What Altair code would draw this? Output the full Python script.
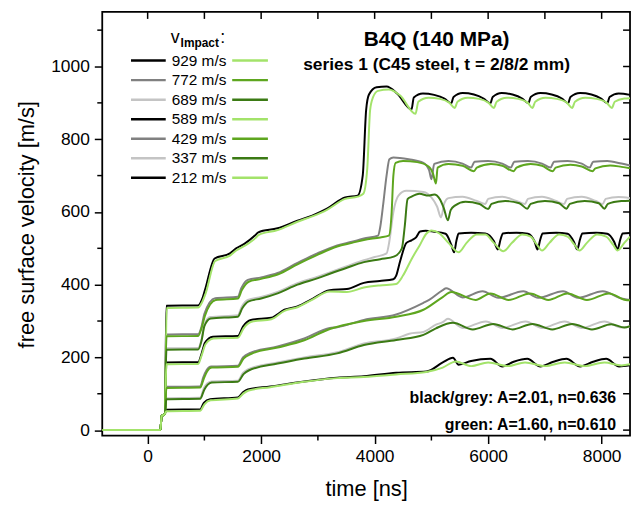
import altair as alt
import pandas as pd

FONT = "Liberation Sans"

# ---------------- data ----------------
impact_labels = ["929 m/s", "772 m/s", "689 m/s", "589 m/s", "429 m/s", "337 m/s", "212 m/s"]
black_colors = ["#000000", "#808080", "#c4c4c4", "#000000", "#808080", "#c4c4c4", "#000000"]
green_colors = ["#a3e36a", "#5ea61f", "#3b7a14", "#a3e36a", "#5ea61f", "#3b7a14", "#a3e36a"]

x_ticks = [0, 2000, 4000, 6000, 8000]
x_minor = [1000, 3000, 5000, 7000]
y_ticks = [0, 200, 400, 600, 800, 1000]
y_minor = [100, 300, 500, 700, 900, 1100]

# (time [ns], velocity [m/s]) pairs, black/grey curves
k929 = [(-800,0),(225,0),(245,38),(305,45),(330,342),(890,343),(960,360),(1010,385),(1180,472),(1450,486),(1560,500),(1710,513),(1890,535),(1950,544),(2290,555),(2640,576),(2900,590),(3160,609),(3480,640),(3700,645),(3790,700),(3850,880),(3900,923),(4035,943),(4210,945),(4400,925),(4650,882),(4690,915),(4850,926),(5050,922),(5230,912),(5350,899),(5390,916),(5550,927),(5750,923),(5920,912),(6040,899),(6080,916),(6240,927),(6430,923),(6600,912),(6710,899),(6750,916),(6920,927),(7120,923),(7300,912),(7410,899),(7450,916),(7620,927),(7820,923),(7990,912),(8100,899),(8140,916),(8300,926),(8500,922)]
k772 = [(-800,0),(225,0),(245,38),(305,45),(330,263),(890,264),(950,285),(1000,320),(1190,363),(1590,367),(1650,390),(1765,413),(2000,420),(2290,432),(2640,460),(2990,486),(3340,508),(3600,518),(3810,527),(4060,535),(4100,560),(4150,620),(4210,700),(4260,745),(4330,750),(4600,745),(4860,735),(4960,715),(5000,690),(5050,732),(5300,740),(5550,733),(5700,722),(5760,738),(6000,740),(6250,733),(6400,722),(6460,738),(6700,740),(6950,733),(7100,722),(7160,738),(7400,740),(7650,733),(7790,722),(7850,738),(8100,740),(8350,733),(8500,728)]
k689 = [(-800,0),(225,0),(245,38),(305,45),(330,225),(890,226),(950,250),(1000,290),(1100,311),(1590,316),(1660,340),(1765,358),(2000,366),(2290,380),(2640,404),(3000,422),(3210,434),(3500,450),(3810,467),(4000,476),(4210,486),(4260,520),(4330,600),(4420,645),(4560,658),(4860,655),(5000,640),(5100,615),(5170,585),(5230,625),(5300,638),(5550,642),(5800,630),(5950,622),(6000,636),(6250,642),(6500,630),(6650,622),(6700,636),(6950,642),(7200,630),(7340,622),(7390,636),(7650,642),(7900,630),(8020,622),(8070,636),(8300,641),(8500,638)]
k589 = [(-800,0),(225,0),(245,38),(305,45),(330,186),(890,187),(950,210),(1010,240),(1150,257),(1590,259),(1680,285),(1820,303),(2180,309),(2410,331),(2640,340),(2870,358),(3210,385),(3510,388),(3810,405),(4090,410),(4330,415),(4380,425),(4450,465),(4560,515),(4650,522),(4730,530),(4800,546),(4900,548),(5030,546),(5250,540),(5350,510),(5400,489),(5440,520),(5480,541),(5700,543),(5950,541),(6100,520),(6170,497),(6220,525),(6260,541),(6500,543),(6700,540),(6820,518),(6870,497),(6920,525),(6960,541),(7200,543),(7400,540),(7510,518),(7570,497),(7620,525),(7660,541),(7900,543),(8100,540),(8220,518),(8280,497),(8330,525),(8370,541),(8500,542)]
k429 = [(-800,0),(225,0),(245,38),(305,45),(330,119),(925,120),(980,145),(1040,165),(1120,175),(1590,177),(1680,200),(1820,213),(2290,230),(2760,252),(3210,281),(3340,283),(3810,303),(4380,318),(4860,350),(4960,358),(5200,385),(5260,390),(5550,365),(5900,382),(6180,364),(6620,382),(6880,364),(7320,382),(7580,364),(8020,382),(8350,362),(8500,358)]
k337 = [(-800,0),(225,0),(245,38),(305,45),(330,88),(925,89),(990,115),(1050,128),(1120,134),(1590,136),(1680,157),(1765,167),(2290,186),(2760,200),(3340,214),(3810,238),(4380,252),(4610,265),(4860,270),(5080,290),(5200,297),(5290,306),(5550,281),(5960,299),(6250,281),(6660,299),(6950,281),(7350,299),(7650,281),(8050,299),(8350,282),(8500,285)]
k212 = [(-800,0),(225,0),(245,38),(305,45),(330,56),(925,57),(990,75),(1100,85),(1590,90),(1680,104),(1765,112),(2160,120),(2760,134),(3340,144),(3810,148),(4380,158),(4910,161),(5200,186),(5380,199),(5480,180),(5700,190),(6040,196),(6250,175),(6450,188),(6690,196),(6920,175),(7150,188),(7380,196),(7620,175),(7850,188),(8080,196),(8310,175),(8500,178)]

# green curves
g929 = [(-800,0),(225,0),(245,38),(305,45),(335,336),(890,337),(960,352),(1020,375),(1190,465),(1450,480),(1560,494),(1710,507),(1900,528),(1960,537),(2290,550),(2640,573),(2900,588),(3160,606),(3480,636),(3700,642),(3800,650),(3870,720),(3920,880),(3970,915),(4060,933),(4250,937),(4450,920),(4720,870),(4770,903),(4950,914),(5150,911),(5320,900),(5410,886),(5460,903),(5640,914),(5840,911),(6010,900),(6100,886),(6150,903),(6330,914),(6530,911),(6700,900),(6780,886),(6830,903),(7010,914),(7210,911),(7390,900),(7480,886),(7530,903),(7710,914),(7910,911),(8090,900),(8180,886),(8230,903),(8400,912),(8500,913)]
g772 = [(-800,0),(225,0),(245,38),(305,45),(330,258),(890,259),(950,280),(1010,315),(1200,358),(1590,362),(1660,385),(1780,408),(2000,416),(2290,428),(2640,456),(2990,482),(3340,505),(3600,515),(3810,523),(4100,530),(4250,535),(4300,600),(4330,700),(4370,735),(4500,740),(4750,737),(4950,725),(5030,705),(5080,678),(5110,722),(5300,732),(5550,727),(5750,712),(5800,722),(6050,732),(6250,727),(6450,712),(6500,722),(6750,732),(6950,727),(7140,712),(7190,722),(7450,730),(7650,725),(7840,712),(7890,720),(8150,728),(8350,724),(8500,720)]
g689 = [(-800,0),(225,0),(245,38),(305,45),(330,221),(890,222),(950,246),(1000,286),(1110,307),(1590,312),(1670,336),(1780,354),(2000,362),(2290,376),(2640,400),(3000,418),(3210,430),(3500,446),(3810,462),(4100,470),(4350,478),(4480,500),(4530,560),(4580,635),(4650,642),(4790,650),(4950,645),(5050,648),(5150,635),(5220,610),(5290,577),(5340,605),(5420,618),(5600,628),(5850,622),(6000,608),(6060,622),(6300,630),(6550,624),(6690,609),(6750,622),(7000,630),(7250,624),(7380,609),(7440,622),(7700,630),(7950,624),(8050,609),(8110,622),(8350,630),(8500,631)]
g589 = [(-800,0),(225,0),(245,38),(305,45),(330,181),(890,182),(950,205),(1020,236),(1160,252),(1590,254),(1690,280),(1830,298),(2180,305),(2410,328),(2640,338),(2870,356),(3210,381),(3510,380),(3810,392),(4090,398),(4380,402),(4500,425),(4650,470),(4800,510),(4910,540),(5000,549),(5150,540),(5300,515),(5480,489),(5620,515),(5800,538),(5950,538),(6100,515),(6270,492),(6420,515),(6600,538),(6750,532),(6860,510),(6950,494),(7080,515),(7250,538),(7400,532),(7520,510),(7610,494),(7740,515),(7920,538),(8080,532),(8200,510),(8280,494),(8400,515),(8500,532)]
g429 = [(-800,0),(225,0),(245,38),(305,45),(330,116),(925,117),(990,142),(1050,162),(1130,172),(1590,174),(1690,197),(1830,210),(2290,227),(2760,247),(3210,278),(3810,300),(4380,312),(4860,331),(5200,366),(5350,380),(5780,358),(6040,376),(6360,358),(6740,376),(7060,358),(7400,376),(7740,358),(8130,376),(8450,357),(8500,357)]
g337 = [(-800,0),(225,0),(245,38),(305,45),(330,85),(925,86),(1000,112),(1060,125),(1130,131),(1590,133),(1690,154),(1780,164),(2290,183),(2760,197),(3340,211),(3810,234),(4380,248),(4860,262),(5080,280),(5380,295),(5730,277),(6090,292),(6430,277),(6780,292),(7130,277),(7480,292),(7830,277),(8170,291),(8400,282),(8500,286)]
g212 = [(-800,0),(225,0),(245,38),(305,45),(330,52),(925,53),(1000,71),(1110,82),(1590,87),(1690,101),(1780,109),(2160,118),(2760,133),(3340,143),(3810,146),(4380,153),(4910,160),(5200,172),(5430,189),(5700,176),(6000,186),(6350,176),(6650,186),(7000,176),(7350,186),(7700,176),(8050,186),(8350,178),(8500,181)]

black_series = [k929, k772, k689, k589, k429, k337, k212]
green_series = [g929, g772, g689, g589, g429, g337, g212]

title_text = "B4Q (140 MPa)"
subtitle_text = "series 1 (C45 steel, t = 2/8/2 mm)"
fit_black = "black/grey: A=2.01, n=0.636"
fit_green = "green: A=1.60, n=0.610"

# ---------------- build tables ----------------
def table(series_list, prefix):
    rows = []
    for lab, pts in zip(impact_labels, series_list):
        for t, v in pts:
            rows.append({"t": t, "v": v, "series": prefix + lab})
    return pd.DataFrame(rows)

df_k = table(black_series, "k ")
df_g = table(green_series, "g ")
k_names = ["k " + l for l in impact_labels]
g_names = ["g " + l for l in impact_labels]

W, H = 532, 427
xs = alt.Scale(domain=[-800, 8500], nice=False, zero=False)
ys = alt.Scale(domain=[-15, 1150], nice=False, zero=False)

x_axis = alt.Axis(values=x_ticks, format="d", title="time [ns]", grid=False, domain=False,
                  tickSize=8, tickWidth=1.5, tickColor="black", labelFontSize=17.5,
                  labelFont=FONT, labelColor="black", labelPadding=4,
                  titleFontSize=22, titleFont=FONT, titleFontWeight="normal", titleColor="black",
                  titleY=53, titleBaseline="middle")
y_axis = alt.Axis(values=y_ticks, format="d", title="free surface velocity [m/s]", grid=False,
                  domain=False, tickSize=8, tickWidth=1.5, tickColor="black", labelFontSize=17.5,
                  labelFont=FONT, labelColor="black", labelPadding=5,
                  titleFontSize=22, titleFont=FONT, titleFontWeight="normal", titleColor="black",
                  titleX=-76, titleY=214, titleAngle=270, titleAlign="center", titleBaseline="middle")

X = alt.X("t:Q", scale=xs, axis=x_axis)
Y = alt.Y("v:Q", scale=ys, axis=y_axis)

black_layer = alt.Chart(df_k).mark_line(strokeWidth=2, interpolate="monotone", clip=True).encode(
    x=X, y=Y,
    color=alt.Color("series:N", scale=alt.Scale(domain=k_names, range=black_colors), legend=None),
)
green_layer = alt.Chart(df_g).mark_line(strokeWidth=2, interpolate="monotone", clip=True).encode(
    x=X, y=Y,
    color=alt.Color("series:N", scale=alt.Scale(domain=g_names, range=green_colors), legend=None),
)

# mirror / minor ticks
top_ticks = alt.Chart(pd.DataFrame({"t": sorted(x_ticks + x_minor)})).mark_rule(color="black", strokeWidth=1.5).encode(
    x=X, y=alt.value(0), y2=alt.value(7))
bot_minor = alt.Chart(pd.DataFrame({"t": x_minor})).mark_rule(color="black", strokeWidth=1.5).encode(
    x=X, y=alt.value(H), y2=alt.value(H + 5))
right_ticks = alt.Chart(pd.DataFrame({"v": sorted(y_ticks + y_minor)})).mark_rule(color="black", strokeWidth=1.5).encode(
    y=Y, x=alt.value(W), x2=alt.value(W - 7))
left_minor = alt.Chart(pd.DataFrame({"v": y_minor})).mark_rule(color="black", strokeWidth=1.5).encode(
    y=Y, x=alt.value(0), x2=alt.value(-5))

def text_layer(txt, x, y, size, bold=False, align="left", baseline="alphabetic"):
    return alt.Chart(pd.DataFrame({"txt": [txt]})).mark_text(
        font=FONT, fontSize=size, fontWeight="bold" if bold else "normal",
        align=align, baseline=baseline, color="black").encode(
        text="txt:N", x=alt.value(x), y=alt.value(y))

layers = [black_layer, green_layer, top_ticks, bot_minor, right_ticks, left_minor]
layers.append(text_layer(title_text, 337, 34, 21, bold=True, align="center"))
layers.append(text_layer(subtitle_text, 337, 59, 17.5, bold=True, align="center"))
layers.append(text_layer(fit_black, 518, 394, 16, bold=True, align="right"))
layers.append(text_layer(fit_green, 518, 421, 16, bold=True, align="right"))

# custom legend
layers.append(text_layer("v", 69, 31, 18))
layers.append(text_layer("Impact", 79, 35, 12, bold=True))
layers.append(text_layer(":", 119, 31, 18))
for i, lab in enumerate(impact_labels):
    yy = 49 + i * 19.7
    layers.append(alt.Chart(pd.DataFrame({"s": [lab]})).mark_rule(color=black_colors[i], strokeWidth=2.5).encode(
        x=alt.value(29), x2=alt.value(64), y=alt.value(yy)))
    layers.append(alt.Chart(pd.DataFrame({"s": [lab]})).mark_rule(color=green_colors[i], strokeWidth=2.5).encode(
        x=alt.value(131), x2=alt.value(167), y=alt.value(yy)))
    layers.append(text_layer(lab, 70, yy, 15.5, baseline="middle"))

chart = alt.layer(*layers).resolve_scale(color="independent").properties(
    width=W, height=H,
    autosize=alt.AutoSizeParams(type="none"),
    padding={"left": 95, "top": 2, "right": 2, "bottom": 69},
).configure_view(stroke="black", strokeWidth=1.8)

chart.save("out.html", embed_options={"renderer": "svg", "actions": False})
